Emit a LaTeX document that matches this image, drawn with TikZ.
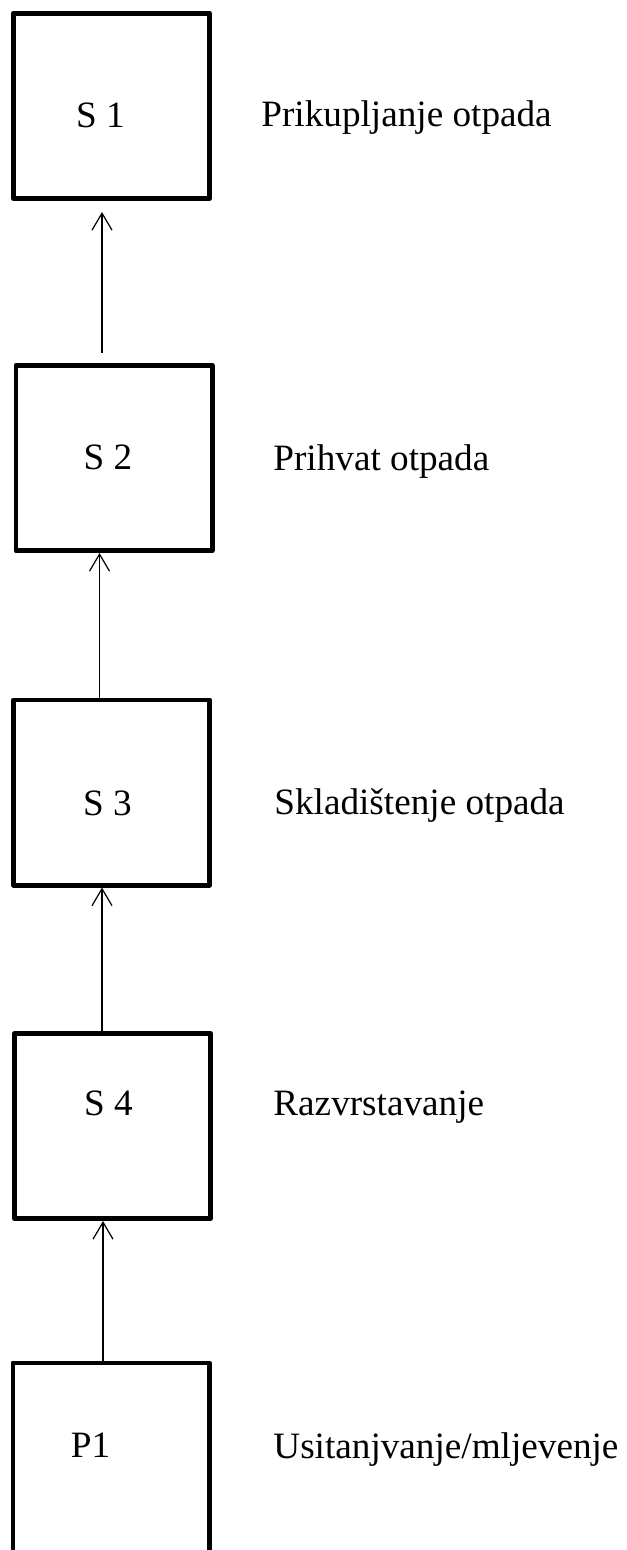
\documentclass[tikz,border=0pt]{standalone}
\usepackage{fontspec}
\setmainfont{Liberation Serif}
\usetikzlibrary{arrows.meta}

\tikzset{
  stepbox/.style={draw, line width=2.4pt, line join=round, minimum width=98.1pt, minimum height=92.6pt, inner sep=0pt},
  boxtext/.style={anchor=base, inner sep=0pt},
  steplabel/.style={anchor=base west, inner sep=0pt},
  flow/.style={line width=0.6pt, -{Straight Barb[length=8.5pt,width=10pt]}}
}

\begin{document}
\begin{tikzpicture}[x=0.5pt, y=-0.5pt, font=\fontsize{18.6}{22}\selectfont]
\useasboundingbox (0,0) rectangle (626,1550);
% kutije
\node [stepbox] (s1) at (111.5,106) {};
\node [stepbox] (s2) at (114,458) {};
\node [stepbox] (s3) at (111.5,792.5) {};
\node [stepbox] (s4) at (112.5,1126) {};
\node [stepbox, minimum height=100pt] (p1) at (111,1463) {};
% oznake u kutijama
\node [boxtext] (s1txt) at (100.5,128) {S 1};
\node [boxtext] (s2txt) at (108,470) {S 2};
\node [boxtext] (s3txt) at (107.5,815) {S 3};
\node [boxtext] (s4txt) at (108.5,1115) {S 4};
\node [boxtext] (p1txt) at (90.5,1457) {P1};
% opisi
\node [steplabel] (s1lab) at (261,127) {Prikupljanje otpada};
\node [steplabel] (s2lab) at (273,471) {Prihvat otpada};
\node [steplabel] (s3lab) at (274,814) {Skladištenje otpada};
\node [steplabel] (s4lab) at (273,1115) {Razvrstavanje};
\node [steplabel] (p1lab) at (273,1458) {Usitanjvanje/mljevenje};
% strelice
\draw [flow, shorten <=5pt, shorten >=5.5pt] (102,0 |- s2.north) -- (102,0 |- s1.south);
\draw [flow] (99.5,0 |- s3.north) -- (99.5,0 |- s2.south);
\draw [flow] (102,0 |- s4.north) -- (102,0 |- s3.south);
\draw [flow] (103,0 |- p1.north) -- (103,0 |- s4.south);
\end{tikzpicture}
\end{document}
